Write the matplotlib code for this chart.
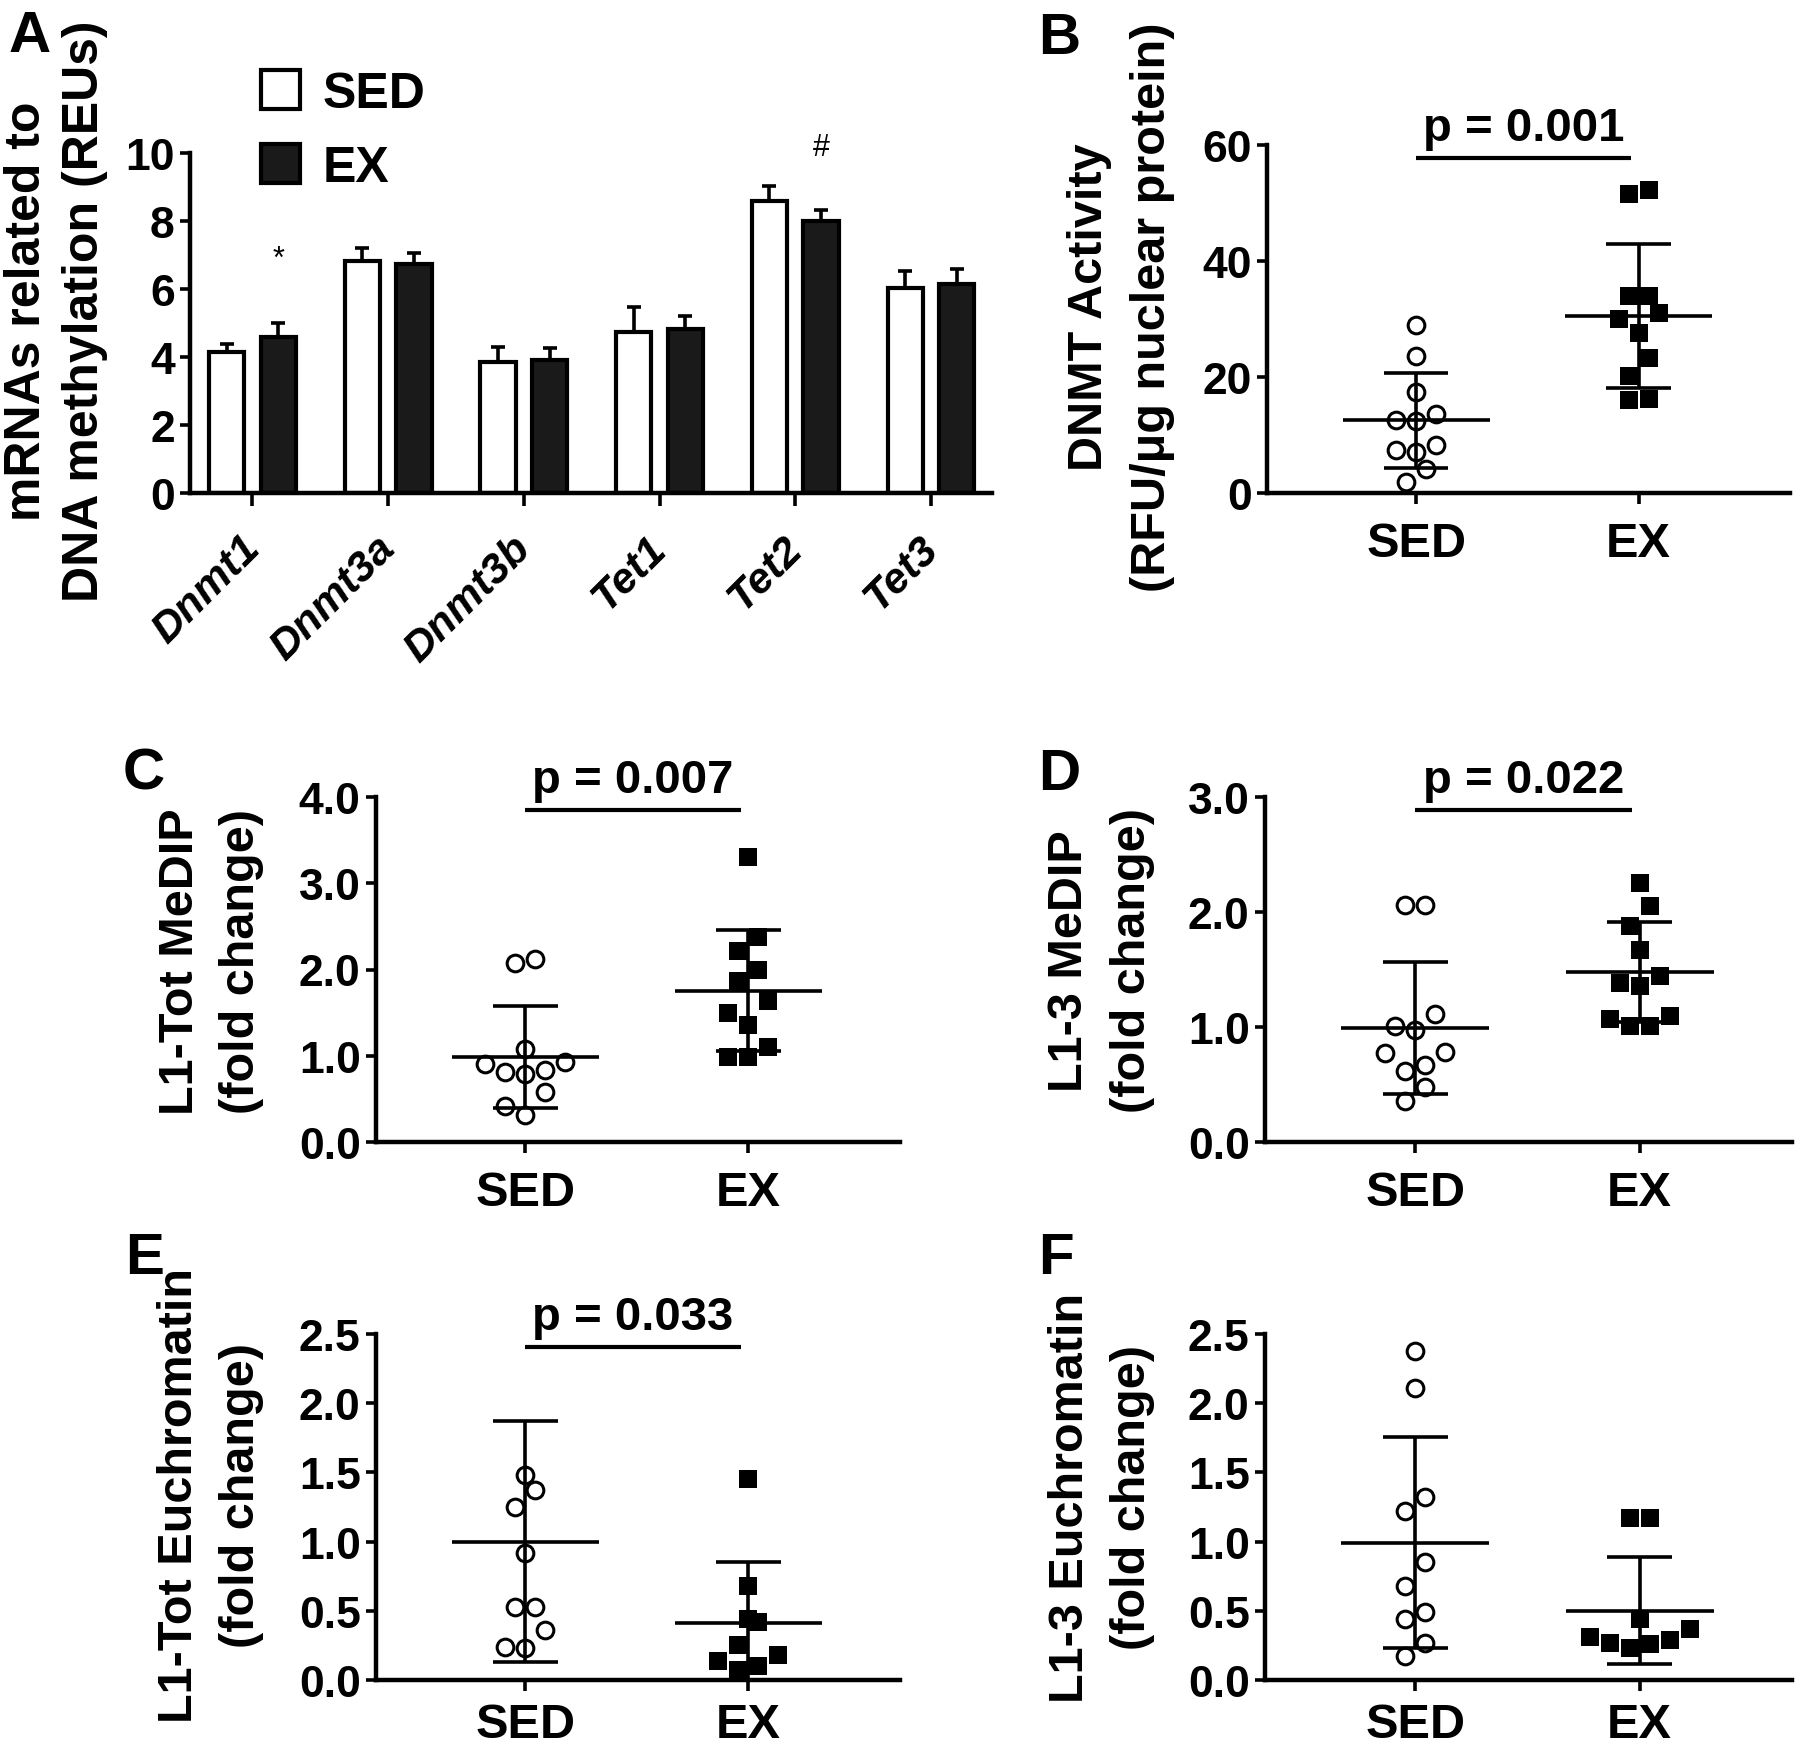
import numpy as np
import matplotlib
matplotlib.use("Agg")
import matplotlib.pyplot as plt
from matplotlib.transforms import ScaledTranslation

plt.rcParams['font.family'] = ['Liberation Sans', 'DejaVu Sans']
plt.rcParams['font.weight'] = 'bold'
plt.rcParams['axes.linewidth'] = 3.2

# ---------------- data ----------------
genes = ['Dnmt1', 'Dnmt3a', 'Dnmt3b', 'Tet1', 'Tet2', 'Tet3']
a_sed_mean = [4.15, 6.83, 3.86, 4.73, 8.58, 6.02]
a_sed_sem = [0.23, 0.38, 0.42, 0.74, 0.45, 0.50]
a_ex_mean = [4.60, 6.74, 3.92, 4.83, 8.00, 6.15]
a_ex_sem = [0.41, 0.32, 0.34, 0.37, 0.31, 0.45]
a_marks = ['*', '', '', '', '#', '']

groups = ['SED', 'EX']

b_sed = [29.0, 23.6, 17.5, 13.6, 12.4, 12.6, 7.5, 7.1, 8.3, 4.1, 1.9]
b_ex = [51.6, 52.3, 33.9, 33.9, 31.1, 30.0, 27.6, 23.3, 20.1, 16.0, 16.2]

c_sed = [2.12, 2.08, 1.08, 0.91, 0.93, 0.81, 0.83, 0.79, 0.58, 0.42, 0.31]
c_ex = [3.31, 2.38, 2.21, 1.99, 1.87, 1.63, 1.50, 1.36, 1.10, 0.98, 0.98]

d_sed = [2.06, 2.06, 1.11, 0.97, 1.01, 0.78, 0.77, 0.67, 0.62, 0.48, 0.36]
d_ex = [2.25, 2.05, 1.88, 1.67, 1.44, 1.38, 1.36, 1.10, 1.07, 1.01, 1.01]

# one SED value lies above the plotted range (hidden by the axis limit)
e_sed = [3.09, 1.48, 1.37, 1.25, 0.92, 0.53, 0.53, 0.36, 0.23, 0.24]
e_ex = [1.45, 0.68, 0.42, 0.44, 0.25, 0.18, 0.14, 0.10, 0.07]

f_sed = [2.38, 2.11, 1.32, 1.22, 0.85, 0.68, 0.49, 0.44, 0.27, 0.17]
f_ex = [1.17, 1.17, 0.44, 0.37, 0.31, 0.29, 0.27, 0.26, 0.23]

b_yticks = [0, 20, 40, 60]
c_yticks = [0.0, 1.0, 2.0, 3.0, 4.0]
d_yticks = [0.0, 1.0, 2.0, 3.0]
e_yticks = [0.0, 0.5, 1.0, 1.5, 2.0, 2.5]
f_yticks = [0.0, 0.5, 1.0, 1.5, 2.0, 2.5]

a_ylabel = ['mRNAs related to', 'DNA methylation (REUs)']
b_ylabel = ['DNMT Activity', '(RFU/\u03bcg nuclear protein)']
c_ylabel = ['L1-Tot MeDIP', '(fold change)']
d_ylabel = ['L1-3 MeDIP', '(fold change)']
e_ylabel = ['L1-Tot Euchromatin', '(fold change)']
f_ylabel = ['L1-3 Euchromatin', '(fold change)']

b_p = 'p = 0.001'
c_p = 'p = 0.007'
d_p = 'p = 0.022'
e_p = 'p = 0.033'
f_p = None

# ---------------- figure ----------------
W, H = 1800, 1749
fig = plt.figure(figsize=(W / 100, H / 100), dpi=100)


def add_ax(l, r, t, b):
    return fig.add_axes([l / W, 1 - b / H, (r - l) / W, (b - t) / H])


def style(ax):
    for s in ['top', 'right']:
        ax.spines[s].set_visible(False)
    ax.tick_params(axis='both', direction='out', width=2.6, length=7,
                   labelsize=32, color='black')
    ax.tick_params(axis='y', pad=4)


def two_line_ylabel(ax, lines, lab_x, lab_y, pitch_px, fs):
    # second line is the axis label; first line sits one line further out
    ax.set_ylabel(lines[1], fontsize=fs, fontweight='bold')
    ax.yaxis.set_label_coords(lab_x, lab_y)
    ax_w = ax.get_position().width * W
    ax.text(lab_x - pitch_px / ax_w, lab_y, lines[0], transform=ax.transAxes,
            rotation=90, rotation_mode='anchor', ha='center', va='bottom',
            fontsize=fs, fontweight='bold')


# ---------------- panel A ----------------
axA = add_ax(190, 992, 154, 494)
style(axA)
x = np.arange(len(genes))
bw = 0.26
off = 0.19
bar_sed = axA.bar(x - off, a_sed_mean, bw, color='white', edgecolor='black',
                  linewidth=3, zorder=2)
bar_ex = axA.bar(x + off, a_ex_mean, bw, color='#1a1a1a', edgecolor='black',
                 linewidth=3, zorder=2)
axA.errorbar(x - off, a_sed_mean, yerr=[np.zeros(len(genes)), a_sed_sem],
             fmt='none', ecolor='black', elinewidth=2.6, capsize=5,
             capthick=2.6, zorder=3)
axA.errorbar(x + off, a_ex_mean, yerr=[np.zeros(len(genes)), a_ex_sem],
             fmt='none', ecolor='black', elinewidth=2.6, capsize=5,
             capthick=2.6, zorder=3)
for i, mk in enumerate(a_marks):
    if mk:
        axA.annotate(mk, xy=(x[i] + off, a_ex_mean[i] + a_ex_sem[i]),
                     xytext=(0, 46), textcoords='offset points',
                     ha='center', va='center', fontsize=22,
                     fontweight='normal')
axA.set_xlim(-0.46, 5.45)
axA.set_ylim(0, 10)
axA.set_yticks([0, 2, 4, 6, 8, 10])
axA.set_xticks(x)
axA.set_xticklabels(genes, rotation=45, ha='right', va='top',
                    rotation_mode='anchor', fontstyle='italic',
                    fontsize=31)
axA.tick_params(axis='x', pad=16, length=9)
for lbl in axA.get_xticklabels():
    lbl.set_transform(lbl.get_transform() +
                      ScaledTranslation(-0.13, 0, fig.dpi_scale_trans))
two_line_ylabel(axA, a_ylabel, -0.102, 0.538, 58, 36)
leg = axA.legend([bar_sed, bar_ex], groups, loc='upper left',
                 bbox_to_anchor=(261 / W, 1 - 71 / H),
                 bbox_transform=fig.transFigure, frameon=False, fontsize=36,
                 handlelength=0.78, handleheight=0.82, handletextpad=0.46,
                 labelspacing=0.55, borderpad=0, borderaxespad=0)


# ---------------- scatter panels ----------------
def swarm(ax, xc, vals, step_px=20, thr_px=23.6):
    v = np.asarray(vals, float)
    ypix = ax.transData.transform(np.column_stack([np.zeros_like(v), v]))[:, 1]
    pxu = ax.transData.transform((1, 0))[0] - ax.transData.transform((0, 0))[0]
    order = np.argsort(v, kind='stable')
    offs = np.zeros(len(v))
    i = 0
    while i < len(v):
        row = [order[i]]
        j = i + 1
        while j < len(v) and ypix[order[j]] - ypix[order[i]] < thr_px:
            row.append(order[j])
            j += 1
        k = len(row)
        if k % 2:
            pat = [0] + [s * m for m in range(1, k) for s in (-1, 1)]
        else:
            pat = [s * (m + 0.5) for m in range(k) for s in (-1, 1)]
        for idx, p in zip(row, pat):
            offs[idx] = p * step_px
        i = j
    return xc + offs / pxu


def scatter_panel(ax, sed, ex, yticks, ylabel, ptext, lab_x, lab_y, pitch,
                  xpad=12):
    style(ax)
    ymax = yticks[-1]
    ax.set_xlim(-0.67, 1.68)
    ax.set_ylim(0, ymax)
    ax.set_xticks([0, 1])
    ax.set_xticklabels(groups, fontsize=35)
    ax.tick_params(axis='x', pad=xpad, length=8)
    ax.set_yticks(yticks)
    if isinstance(yticks[1], float):
        ax.set_yticklabels(['{:.1f}'.format(t) for t in yticks])
    else:
        ax.set_yticklabels(['{:d}'.format(t) for t in yticks])
    for xc, vals, filled in [(0, sed, False), (1, ex, True)]:
        v = np.asarray(vals, float)
        m = v.mean()
        s = v.std(ddof=1)
        ax.hlines(m, xc - 0.33, xc + 0.33, color='black', lw=2.6, zorder=2)
        ax.vlines(xc, m - s, m + s, color='black', lw=2.6, zorder=2)
        ax.hlines([m - s, m + s], xc - 0.145, xc + 0.145, color='black',
                  lw=2.6, zorder=2)
        xs = swarm(ax, xc, v)
        inside = v <= ymax
        if filled:
            ax.plot(xs[inside], v[inside], 's', ms=12.5, mfc='black',
                    mec='black', mew=0, ls='none', zorder=3, clip_on=False)
        else:
            ax.plot(xs[inside], v[inside], 'o', ms=12, mfc='none',
                    mec='black', mew=2.2, ls='none', zorder=3, clip_on=False)
    if ptext:
        yb = 0.963 * ymax
        ax.plot([0, 0.965], [yb, yb], color='black', lw=3, clip_on=False,
                solid_capstyle='butt')
        ax.annotate(ptext, xy=(0.4825, yb), xytext=(0, 13),
                    textcoords='offset points', ha='center', va='baseline',
                    fontsize=34, fontweight='bold', annotation_clip=False)
    two_line_ylabel(ax, ylabel, lab_x, lab_y, pitch, 35)


axB = add_ax(1267, 1790, 146, 494)
scatter_panel(axB, b_sed, b_ex, b_yticks, b_ylabel, b_p, -0.176, 0.537, 63)
axC = add_ax(376, 900, 798, 1143)
scatter_panel(axC, c_sed, c_ex, c_yticks, c_ylabel, c_p, -0.214, 0.525, 61)
axD = add_ax(1265, 1792, 798, 1143)
scatter_panel(axD, d_sed, d_ex, d_yticks, d_ylabel, d_p, -0.209, 0.528, 63)
axE = add_ax(376, 900, 1335, 1681)
scatter_panel(axE, e_sed, e_ex, e_yticks, e_ylabel, e_p, -0.214, 0.535, 62,
              xpad=8)
axF = add_ax(1265, 1792, 1335, 1681)
scatter_panel(axF, f_sed, f_ex, f_yticks, f_ylabel, f_p, -0.209, 0.53, 62,
              xpad=8)

# panel letters
for letter, px, py in [('A', 9, 10), ('B', 1038, 12), ('C', 123, 748),
                       ('D', 1038, 748), ('E', 125, 1232), ('F', 1038, 1232)]:
    fig.text(px / W, 1 - py / H, letter, fontsize=42, fontweight='bold',
             ha='left', va='top')

fig.savefig('out.png', dpi=100)
